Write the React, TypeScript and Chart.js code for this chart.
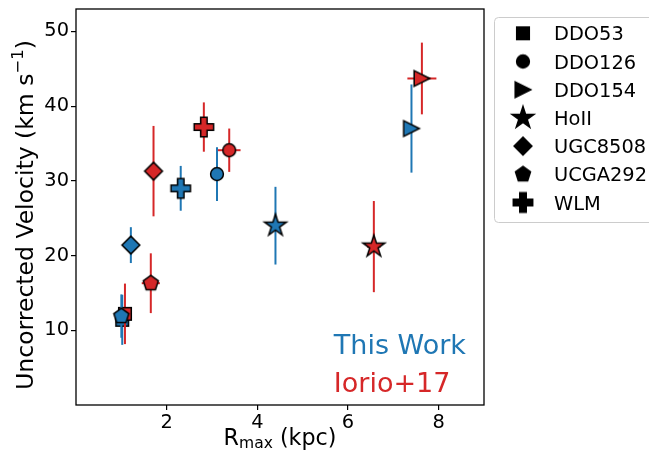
import React, { useEffect, useRef } from 'react';
import { Chart, registerables } from 'chart.js';

Chart.register(...registerables);

// ---------------- data ----------------
const galaxies = ['DDO53', 'DDO126', 'DDO154', 'HoII', 'UGC8508', 'UCGA292', 'WLM'];
const markerKinds = ['square', 'circle', 'triangle', 'star', 'diamond', 'pentagon', 'plus'];

// This Work (blue)
const thisWorkR = [1.02, 3.11, 7.40, 4.40, 1.21, 1.00, 2.31];
const thisWorkV = [11.4, 30.9, 37.0, 24.0, 21.4, 11.9, 29.0];
const thisWorkVErr = [3.35, 3.6, 5.9, 5.2, 2.4, 2.9, 3.0];

// Iorio+17 (red)
const iorioR = [1.08, 3.38, 7.63, 6.57, 1.71, 1.65, 2.82];
const iorioV = [12.2, 34.1, 43.7, 21.2, 31.3, 16.3, 37.2];
const iorioVErr = [4.05, 2.9, 4.8, 6.1, 6.05, 4.0, 3.3];
const iorioRErr = [0.1, 0.25, 0.32, 0.15, 0.1, 0.2, 0.1];

const xTicks = [2, 4, 6, 8];
const yTicks = [10, 20, 30, 40, 50];
const seriesNames = ['This Work', 'Iorio+17'];
const seriesColors = ['#1f77b4', '#d62728'];

const FONT = 'DejaVu Sans';

// ---------------- marker images ----------------
function makeMarker(kind: string, fill: string): HTMLCanvasElement {
  const S = 30;
  const c = document.createElement('canvas');
  c.width = S;
  c.height = S;
  const ctx = c.getContext('2d')!;
  ctx.translate(S / 2, S / 2);
  ctx.beginPath();
  switch (kind) {
    case 'square': {
      const h = 6.3;
      ctx.rect(-h, -h, 2 * h, 2 * h);
      break;
    }
    case 'circle':
      ctx.arc(0, 0, 6.4, 0, Math.PI * 2);
      break;
    case 'triangle': {
      const h = 7.8;
      ctx.moveTo(h, 0);
      ctx.lineTo(-h, -h);
      ctx.lineTo(-h, h);
      ctx.closePath();
      break;
    }
    case 'star': {
      const R = 11.5;
      const r = R * 0.381966;
      for (let i = 0; i < 10; i++) {
        const a = -Math.PI / 2 + (i * Math.PI) / 5;
        const rr = i % 2 ? r : R;
        const px = Math.cos(a) * rr;
        const py = Math.sin(a) * rr;
        if (i === 0) ctx.moveTo(px, py);
        else ctx.lineTo(px, py);
      }
      ctx.closePath();
      break;
    }
    case 'diamond': {
      const h = 8.9;
      ctx.moveTo(0, -h);
      ctx.lineTo(h, 0);
      ctx.lineTo(0, h);
      ctx.lineTo(-h, 0);
      ctx.closePath();
      break;
    }
    case 'pentagon': {
      const R = 7.9;
      for (let i = 0; i < 5; i++) {
        const a = -Math.PI / 2 + (i * 2 * Math.PI) / 5;
        const px = Math.cos(a) * R;
        const py = Math.sin(a) * R;
        if (i === 0) ctx.moveTo(px, py);
        else ctx.lineTo(px, py);
      }
      ctx.closePath();
      break;
    }
    case 'plus': {
      const a = 9.7;
      const b = a / 3;
      const pts = [
        [-b, -a], [b, -a], [b, -b], [a, -b], [a, b], [b, b],
        [b, a], [-b, a], [-b, b], [-a, b], [-a, -b], [-b, -b],
      ];
      pts.forEach(([px, py], i) => (i === 0 ? ctx.moveTo(px, py) : ctx.lineTo(px, py)));
      ctx.closePath();
      break;
    }
  }
  ctx.fillStyle = fill;
  ctx.fill();
  ctx.lineWidth = 1.5;
  ctx.lineJoin = 'miter';
  ctx.strokeStyle = '#000';
  ctx.stroke();
  return c;
}

// ---------------- plugins ----------------
const errorBarPlugin = {
  id: 'errorBars',
  beforeDatasetDraw(chart: any, args: any) {
    const ds = chart.data.datasets[args.index];
    const xs = chart.scales.x;
    const ys = chart.scales.y;
    const ctx = chart.ctx;
    ctx.save();
    ctx.strokeStyle = ds.errColor;
    ctx.lineWidth = 2;
    ctx.lineCap = 'butt';
    ds.data.forEach((p: any) => {
      const px = xs.getPixelForValue(p.x);
      const py = ys.getPixelForValue(p.y);
      if (ds.yErr) {
        ctx.beginPath();
        ctx.moveTo(px, ys.getPixelForValue(p.y - ds.yErr));
        ctx.lineTo(px, ys.getPixelForValue(p.y + ds.yErr));
        ctx.stroke();
      }
      if (ds.xErr) {
        ctx.beginPath();
        ctx.moveTo(xs.getPixelForValue(p.x - ds.xErr), py);
        ctx.lineTo(xs.getPixelForValue(p.x + ds.xErr), py);
        ctx.stroke();
      }
    });
    ctx.restore();
  },
};

let legendMarkers: HTMLCanvasElement[] = [];

const decorPlugin = {
  id: 'decor',
  afterDraw(chart: any) {
    const ctx = chart.ctx;
    const ca = chart.chartArea;
    ctx.save();

    // frame
    ctx.strokeStyle = '#000';
    ctx.lineWidth = 1.3;
    ctx.strokeRect(ca.left, ca.top, ca.right - ca.left, ca.bottom - ca.top);

    // annotation text
    const w = ca.right - ca.left;
    const h = ca.bottom - ca.top;
    ctx.font = `27px "${FONT}"`;
    ctx.textAlign = 'left';
    ctx.textBaseline = 'alphabetic';
    ctx.fillStyle = seriesColors[0];
    ctx.fillText(seriesNames[0], ca.left + 0.632 * w, ca.top + 0.87 * h);
    ctx.fillStyle = seriesColors[1];
    ctx.fillText(seriesNames[1], ca.left + 0.632 * w, ca.top + 0.966 * h);

    // x title: R_max (kpc)
    ctx.fillStyle = '#000';
    const fx = 22.2;
    const fsub = fx * 0.7;
    ctx.font = `${fx}px "${FONT}"`;
    const wR = ctx.measureText('R').width;
    const wRest = ctx.measureText(' (kpc)').width;
    ctx.font = `${fsub}px "${FONT}"`;
    const wSub = ctx.measureText('max').width;
    const totalX = wR + wSub + wRest;
    let cx = (ca.left + ca.right) / 2 - totalX / 2;
    const by = 444.7;
    ctx.font = `${fx}px "${FONT}"`;
    ctx.fillText('R', cx, by);
    cx += wR;
    ctx.font = `${fsub}px "${FONT}"`;
    ctx.fillText('max', cx, by + 3.3);
    cx += wSub;
    ctx.font = `${fx}px "${FONT}"`;
    ctx.fillText(' (kpc)', cx, by);

    // y title: Uncorrected Velocity (km s^-1)
    const fy = 23.5;
    const fsup = fy * 0.7;
    ctx.font = `${fy}px "${FONT}"`;
    const partA = 'Uncorrected Velocity (km s';
    const wA = ctx.measureText(partA).width;
    const wC = ctx.measureText(')').width;
    ctx.font = `${fsup}px "${FONT}"`;
    const wB = ctx.measureText('\u22121').width;
    const totalY = wA + wB + wC;
    ctx.translate(33, 215);
    ctx.rotate(-Math.PI / 2);
    let tx = -totalY / 2;
    ctx.font = `${fy}px "${FONT}"`;
    ctx.fillText(partA, tx, 0);
    tx += wA;
    ctx.font = `${fsup}px "${FONT}"`;
    ctx.fillText('\u22121', tx, -fy * 0.42);
    tx += wB;
    ctx.font = `${fy}px "${FONT}"`;
    ctx.fillText(')', tx, 0);
    ctx.restore();

    // legend
    ctx.save();
    const lx = 494.5;
    const ly = 17.5;
    const lw = 320;
    const lh = 205;
    const rr = 4;
    ctx.beginPath();
    ctx.moveTo(lx + rr, ly);
    ctx.lineTo(lx + lw - rr, ly);
    ctx.arcTo(lx + lw, ly, lx + lw, ly + rr, rr);
    ctx.lineTo(lx + lw, ly + lh - rr);
    ctx.arcTo(lx + lw, ly + lh, lx + lw - rr, ly + lh, rr);
    ctx.lineTo(lx + rr, ly + lh);
    ctx.arcTo(lx, ly + lh, lx, ly + lh - rr, rr);
    ctx.lineTo(lx, ly + rr);
    ctx.arcTo(lx, ly, lx + rr, ly, rr);
    ctx.closePath();
    ctx.fillStyle = 'rgba(255,255,255,0.8)';
    ctx.fill();
    ctx.strokeStyle = '#cccccc';
    ctx.lineWidth = 1;
    ctx.stroke();

    ctx.font = `19.4px "${FONT}"`;
    ctx.fillStyle = '#000';
    ctx.textAlign = 'left';
    ctx.textBaseline = 'alphabetic';
    galaxies.forEach((g, i) => {
      const yc = 33.3 + i * 28.2;
      const img = legendMarkers[i];
      ctx.drawImage(img, 523 - img.width / 2, yc - img.height / 2);
      ctx.fillText(g, 554, yc + 7.1);
    });
    ctx.restore();
  },
};

// ---------------- component ----------------
export default function App() {
  const ref = useRef<HTMLCanvasElement>(null);

  useEffect(() => {
    document.body.style.margin = '0';
    legendMarkers = markerKinds.map((k) => makeMarker(k, '#000'));

    const datasets: any[] = [];
    galaxies.forEach((g, i) => {
      [0, 1].forEach((s) => {
        const x = s === 0 ? thisWorkR[i] : iorioR[i];
        const y = s === 0 ? thisWorkV[i] : iorioV[i];
        datasets.push({
          label: `${seriesNames[s]} ${g}`,
          data: [{ x, y }],
          pointStyle: makeMarker(markerKinds[i], seriesColors[s]),
          pointRadius: 8,
          pointHoverRadius: 8,
          showLine: false,
          yErr: s === 0 ? thisWorkVErr[i] : iorioVErr[i],
          xErr: s === 0 ? 0 : iorioRErr[i],
          errColor: seriesColors[s],
          order: 100 - datasets.length,
        });
      });
    });

    const tickFont = { family: FONT, size: 19.4 };
    const chart = new Chart(ref.current!, {
      type: 'scatter',
      data: { datasets },
      options: {
        animation: false,
        responsive: false,
        devicePixelRatio: 1,
        events: [],
        layout: { padding: { top: 8, right: 165, left: 0, bottom: 0 } },
        plugins: {
          legend: { display: false },
          tooltip: { enabled: false },
        },
        scales: {
          x: {
            type: 'linear',
            min: 0,
            max: 9,
            afterBuildTicks: (s: any) => {
              s.ticks = xTicks.map((v) => ({ value: v }));
            },
            afterFit: (s: any) => {
              s.height = 57;
              s.paddingLeft = s.paddingRight = s.paddingTop = s.paddingBottom = 0;
            },
            border: { display: false },
            grid: {
              display: true,
              drawOnChartArea: false,
              drawTicks: true,
              tickLength: 5,
              color: '#000',
              lineWidth: 1.2,
            },
            ticks: { color: '#000', font: tickFont, padding: 1, maxRotation: 0, autoSkip: false },
            title: { display: false },
          },
          y: {
            type: 'linear',
            min: 0,
            max: 53,
            afterBuildTicks: (s: any) => {
              s.ticks = yTicks.map((v) => ({ value: v }));
            },
            afterFit: (s: any) => {
              s.width = 76;
              s.paddingLeft = s.paddingRight = s.paddingTop = s.paddingBottom = 0;
            },
            border: { display: false },
            grid: {
              display: true,
              drawOnChartArea: false,
              drawTicks: true,
              tickLength: 5,
              color: '#000',
              lineWidth: 1.2,
            },
            ticks: { color: '#000', font: tickFont, padding: 2, autoSkip: false },
            title: { display: false },
          },
        },
      } as any,
      plugins: [errorBarPlugin, decorPlugin],
    });
    return () => chart.destroy();
  }, []);

  return (
    <div style={{ position: 'relative', width: 649, height: 462 }}>
      <canvas ref={ref} width={649} height={462} style={{ display: 'block', width: 649, height: 462 }} />
    </div>
  );
}
